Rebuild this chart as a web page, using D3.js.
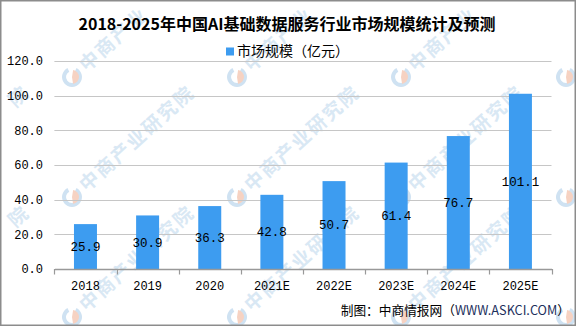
<!DOCTYPE html>
<html>
<head>
<meta charset="utf-8">
<script src="https://cdn.jsdelivr.net/npm/d3@7"></script>
<style>
  html, body { margin: 0; padding: 0; background: #fff; }
  svg { display: block; }
</style>
</head>
<body>
<svg id="chart" width="576" height="326"></svg>
<script>
const titleText = "2018-2025年中国AI基础数据服务行业市场规模统计及预测";
const legendLabel = "市场规模（亿元）";
const categories = ["2018", "2019", "2020", "2021E", "2022E", "2023E", "2024E", "2025E"];
const values = [25.9, 30.9, 36.3, 42.8, 50.7, 61.4, 76.7, 101.1];
const yTicks = [0, 20, 40, 60, 80, 100, 120];
const sourcePrefix = "制图：中商情报网（";
const sourceSite = "WWW.ASKCI.COM";
const sourceSuffix = "）";
const watermarkText = "中商产业研究院";

const W = 576, H = 326;
const svg = d3.select("#chart");
const monoFont = "'Liberation Mono', 'DejaVu Sans Mono', monospace";
const cjkFont = "'Noto Sans CJK SC', 'Noto Sans', sans-serif";

svg.append("rect").attr("x", 0).attr("y", 0).attr("width", W).attr("height", H).attr("fill", "#fff");

// watermarks (behind), characters kept only where fully inside the picture
const wm = svg.append("g").attr("class", "watermark");
const wmX = [-93, 72, 237, 401, 566];
const wmY = [77, 197, 317];
const ang = -42 * Math.PI / 180;
const wmSize = 19, wmStep = 21;
wmY.forEach(wy => wmX.forEach(wx => {
  const g = wm.append("g").attr("transform", `translate(${wx},${wy})`);
  const arc = d3.arc();
  g.append("path").attr("d", arc({innerRadius: 6, outerRadius: 10, startAngle: Math.PI * 0.15, endAngle: Math.PI * 1.85}))
    .attr("fill", "#cfe2f2");
  g.append("path").attr("d", arc({innerRadius: 0, outerRadius: 7, startAngle: Math.PI * 0.05, endAngle: Math.PI * 0.95}))
    .attr("fill", "#f6d2c2");
  Array.from(watermarkText).forEach((ch, i) => {
    const along = 14 + i * wmStep + wmSize / 2;
    const cx = wx + along * Math.cos(ang);
    const cy = wy + along * Math.sin(ang);
    const half = wmSize * 0.72;
    if (cx - half < 2 || cx + half > W - 2 || cy - half < 2 || cy + half > H - 2) return;
    wm.append("text")
      .attr("transform", `translate(${cx},${cy}) rotate(-42)`)
      .attr("text-anchor", "middle").attr("dy", "0.35em")
      .attr("font-family", cjkFont).attr("font-size", wmSize).attr("font-weight", "bold")
      .attr("fill", "#d9e8f4")
      .text(ch);
  });
}));

const x = d3.scaleBand().domain(categories).range([54.4, 551.5]).padding(0);
const y = d3.scaleLinear().domain([0, 120]).range([269, 61]);
const barW = x.bandwidth() * 0.37;

// gridlines
svg.append("g").selectAll("line").data(yTicks.filter(t => t > 0)).join("line")
  .attr("x1", x.range()[0]).attr("x2", x.range()[1])
  .attr("y1", d => Math.round(y(d)) + 0.5).attr("y2", d => Math.round(y(d)) + 0.5)
  .attr("stroke", "#c6c6c6").attr("stroke-width", 1);

// y labels
const yAxis = d3.axisLeft(y).tickValues(yTicks).tickFormat(d3.format(".1f")).tickSize(0).tickPadding(0);
const yg = svg.append("g").attr("transform", "translate(43,0)").call(yAxis);
yg.select(".domain").remove();
yg.selectAll("text").attr("font-family", monoFont).attr("font-size", 12).attr("fill", "#000");

// bars
svg.append("g").selectAll("rect").data(values).join("rect")
  .attr("x", (d, i) => x(categories[i]) + (x.bandwidth() - barW) / 2)
  .attr("width", barW)
  .attr("y", d => y(d))
  .attr("height", d => y(0) - y(d))
  .attr("fill", "#3d9cf0");

// value labels (middle of bar)
svg.append("g").selectAll("text").data(values).join("text")
  .attr("x", (d, i) => x(categories[i]) + x.bandwidth() / 2)
  .attr("y", d => (y(d) + y(0)) / 2)
  .attr("dy", "0.35em")
  .attr("text-anchor", "middle")
  .attr("font-family", monoFont).attr("font-size", 12.5).attr("fill", "#000")
  .text(d => d3.format(".1f")(d));

// x axis
const xAxis = d3.axisBottom(x).tickSize(0).tickPadding(12);
const xg = svg.append("g").attr("transform", `translate(0,${y(0)})`).call(xAxis);
xg.select(".domain").attr("stroke", "#999").attr("stroke-width", 1.3);
xg.selectAll("text").attr("font-family", monoFont).attr("font-size", 12).attr("fill", "#000");
const boundaries = categories.map(c => x(c)).concat([x.range()[1]]);
xg.append("g").selectAll("line").data(boundaries).join("line")
  .attr("x1", d => Math.round(d) + 0.5).attr("x2", d => Math.round(d) + 0.5)
  .attr("y1", 0).attr("y2", 5.5)
  .attr("stroke", "#999").attr("stroke-width", 1.2);

// title
svg.append("text").attr("x", 287).attr("y", 30)
  .attr("text-anchor", "middle")
  .attr("font-family", cjkFont).attr("font-weight", "bold").attr("font-size", 16)
  .attr("fill", "#000").text(titleText);

// legend
svg.append("rect").attr("x", 226).attr("y", 47.5).attr("width", 8).attr("height", 8).attr("fill", "#3d9cf0");
svg.append("text").attr("x", 237).attr("y", 51.5).attr("dy", "0.35em")
  .attr("font-family", cjkFont).attr("font-size", 14).attr("fill", "#000")
  .text(legendLabel);

// source
const src = svg.append("text").attr("x", 570).attr("y", 311).attr("dy", "0.35em")
  .attr("text-anchor", "end")
  .attr("font-family", cjkFont).attr("font-size", 12.7).attr("fill", "#000");
src.append("tspan").text(sourcePrefix);
src.append("tspan").attr("fill", "#1c2f5c").text(sourceSite);
src.append("tspan").text(sourceSuffix);

// border
svg.append("rect").attr("x", 0.75).attr("y", 0.75).attr("width", W - 1.5).attr("height", H - 1.5)
  .attr("fill", "none").attr("stroke", "#8c8c8c").attr("stroke-width", 1.5);
</script>
</body>
</html>
